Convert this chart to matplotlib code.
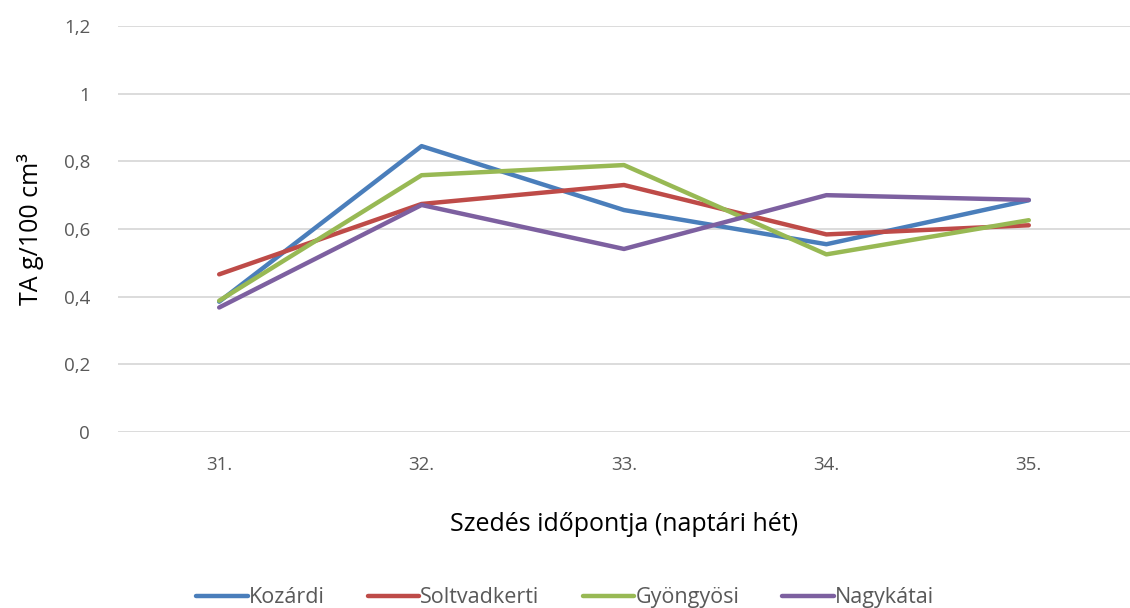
import matplotlib
matplotlib.use("Agg")
import matplotlib.pyplot as plt

# adatok
weeks = ["31.", "32.", "33.", "34.", "35."]
kozardi = [0.385, 0.845, 0.656, 0.555, 0.685]
soltvadkerti = [0.466, 0.674, 0.730, 0.584, 0.611]
gyongyosi = [0.388, 0.759, 0.789, 0.525, 0.626]
nagykatai = [0.368, 0.671, 0.541, 0.700, 0.686]

names = ["Kozárdi", "Soltvadkerti", "Gyöngyösi", "Nagykátai"]
colors = ["#4a7ebb", "#be4b48", "#98b954", "#7d60a0"]
series = [kozardi, soltvadkerti, gyongyosi, nagykatai]

plt.rcParams["font.family"] = ["Open Sans", "DejaVu Sans"]

fig = plt.figure(figsize=(11.3, 6.08), dpi=100)
ax = fig.add_axes([0.1044, 0.2895, 0.8956, 0.6677])

x = list(range(len(weeks)))
for vals, name, c in zip(series, names, colors):
    ax.plot(x, vals, color=c, linewidth=3.2, label=name, solid_capstyle="round")

ax.set_xlim(-0.5, len(weeks) - 0.5)
ax.set_ylim(0, 1.2)
yt = [0, 0.2, 0.4, 0.6, 0.8, 1.0, 1.2]
ax.set_yticks(yt)
ax.set_yticklabels(["0", "0,2", "0,4", "0,6", "0,8", "1", "1,2"])
ax.set_xticks(x)
ax.set_xticklabels(weeks)
ax.grid(axis="y", color="#d9d9d9", linewidth=1.3)
ax.set_axisbelow(True)
for s in ax.spines.values():
    s.set_visible(False)
ax.tick_params(axis="both", length=0, labelsize=13.5, labelcolor="#595959")
ax.tick_params(axis="y", pad=20)
ax.tick_params(axis="x", pad=17)

ax.set_xlabel("Szedés időpontja (naptári hét)", fontsize=18, labelpad=28)
ax.set_ylabel("TA g/100 cm³", fontsize=18, labelpad=14)

leg = fig.legend(loc="lower center", bbox_to_anchor=(0.5, -0.032), ncol=4,
                 frameon=False, fontsize=15.5, handlelength=2.4,
                 columnspacing=2.0, handletextpad=0.05)
for t in leg.get_texts():
    t.set_color("#595959")

fig.savefig("out.png", dpi=100)
